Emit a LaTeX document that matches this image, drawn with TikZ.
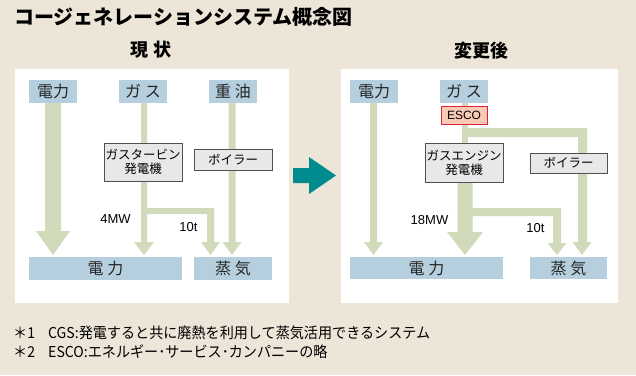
\documentclass[tikz,border=0pt]{standalone}
\usepackage{fontspec}
\setmainfont{Liberation Sans}
\newfontfamily\jp{Noto Sans CJK JP}
\newfontfamily\jpnarrow{Noto Sans CJK JP}[FakeStretch=0.94]
\definecolor{bg}{HTML}{EDE5D7}
\definecolor{boxblue}{HTML}{B5CFDF}
\definecolor{agreen}{HTML}{D2DABC}
\definecolor{tealarrow}{HTML}{008B8F}
\definecolor{gbox}{HTML}{E8E8E8}
\definecolor{gborder}{HTML}{505050}
\definecolor{escofill}{HTML}{F9CBB5}
\definecolor{escoborder}{HTML}{E0203A}
\newcommand\blockdown[6]{%
  \fill[agreen] ({#1-#3/2},#2) -- ({#1+#3/2},#2) -- ({#1+#3/2},#5) -- ({#1+#4/2},#5)
    -- (#1,#6) -- ({#1-#4/2},#5) -- ({#1-#3/2},#5) -- cycle;}
\begin{document}
\begin{tikzpicture}[x=1pt,y=-1pt,
  bluebox/.style={fill=boxblue,inner sep=0pt,font=\jp\fontsize{16}{16}\selectfont,text=black!85},
  unitbox/.style={fill=gbox,draw=gborder,line width=0.8pt,inner sep=0pt,align=center,
    font=\jp\fontsize{12.5}{14}\selectfont},
  escobox/.style={fill=escofill,draw=escoborder,line width=0.8pt,inner sep=0pt,
    font=\fontsize{12}{12}\selectfont},
  qty/.style={inner sep=0pt,font=\fontsize{13}{13}\selectfont},
  heading/.style={inner sep=0pt,font=\jp\bfseries\fontsize{18}{18}\selectfont},
  note/.style={inner sep=0pt,anchor=west,font=\jpnarrow\fontsize{15}{15}\selectfont}]
\fill[bg] (0,0) rectangle (636,375);
\useasboundingbox (0,0) rectangle (636,375);
% title and headings
\node[heading,anchor=west,font=\jp\bfseries\fontsize{20}{20}\selectfont] (title) at (14,17) {コージェネレーションシステム概念図};
\node[heading] (hL) at (151,50) {現 状};
\node[heading] (hR) at (481,51) {変更後};
% panels
\fill[white] (15,69) rectangle (289,303);
\fill[white] (341,69) rectangle (618,303);
% ---------- left arrows ----------
\blockdown{53}{103}{16}{34}{231}{255}
\blockdown{144}{103}{6}{20}{242}{255}
\fill[agreen] (146,208) -- (214,208) -- (214,242) -- (220,242) -- (210.5,255) -- (201,242)
  -- (207,242) -- (207,214) -- (146,214) -- cycle;
\blockdown{232}{103}{7}{19}{242}{255}
% ---------- right arrows ----------
\blockdown{373.5}{103}{7}{19}{242}{255}
\fill[agreen] (462,103) rectangle (468,182);
\fill[agreen] (468,128) -- (587,128) -- (587,242) -- (591.5,242) -- (582,255) -- (572.5,242)
  -- (578,242) -- (578,137) -- (468,137) -- cycle;
\blockdown{465}{182}{15}{36}{232}{255}
\fill[agreen] (472,208) -- (561,208) -- (561,243) -- (566.5,243) -- (557,255) -- (547.5,243)
  -- (553,243) -- (553,216) -- (472,216) -- cycle;
% ---------- left boxes ----------
\node[bluebox,minimum width=48,minimum height=23] (LtopE) at (53,91.5) {電力};
\node[bluebox,minimum width=48,minimum height=23] (LtopG) at (143,91.5) {ガ ス};
\node[bluebox,minimum width=48,minimum height=23] (LtopO) at (233,91.5) {重 油};
\node[unitbox,minimum width=78,minimum height=38] (LGT) at (143,162) {ガスタービン\\発電機};
\node[unitbox,minimum width=78,minimum height=21] (LB) at (233,159.5) {ボイラー};
\node[bluebox,minimum width=153,minimum height=23] (LbotE) at (105.5,268.5) {電 力};
\node[bluebox,minimum width=78,minimum height=23] (LbotS) at (233,268.5) {蒸 気};
\node[qty] (L4) at (115.5,219) {4MW};
\node[qty] (L10) at (188.5,227) {10t};
% ---------- right boxes ----------
\node[bluebox,minimum width=48,minimum height=23] (RtopE) at (374,91.5) {電力};
\node[bluebox,minimum width=48,minimum height=23] (RtopG) at (464,91.5) {ガ ス};
\node[escobox,minimum width=46,minimum height=18] (esco) at (464,115) {ESCO};
\node[unitbox,minimum width=78,minimum height=39] (RGE) at (464,162.5) {ガスエンジン\\発電機};
\node[unitbox,minimum width=77,minimum height=20] (RB) at (568.5,163) {ボイラー};
\node[bluebox,minimum width=153,minimum height=22] (RbotE) at (426.5,268) {電 力};
\node[bluebox,minimum width=77,minimum height=22] (RbotS) at (568.5,268) {蒸 気};
\node[qty] (R18) at (429.5,220) {18MW};
\node[qty] (R10) at (535.5,228) {10t};
% ---------- teal arrow ----------
\fill[tealarrow] (293,168) -- (309,168) -- (309,157) -- (336,175.5) -- (309,194) -- (309,183)
  -- (293,183) -- cycle;
% ---------- notes ----------
\node[note] (n1a) at (13,333) {＊1};
\node[note] (n1b) at (48,333) {CGS:発電すると共に廃熱を利用して蒸気活用できるシステム};
\node[note] (n2a) at (13,352) {＊2};
\node[note] (n2b) at (48,352) {ESCO:エネルギー･サービス･カンパニーの略};
\end{tikzpicture}
\end{document}
